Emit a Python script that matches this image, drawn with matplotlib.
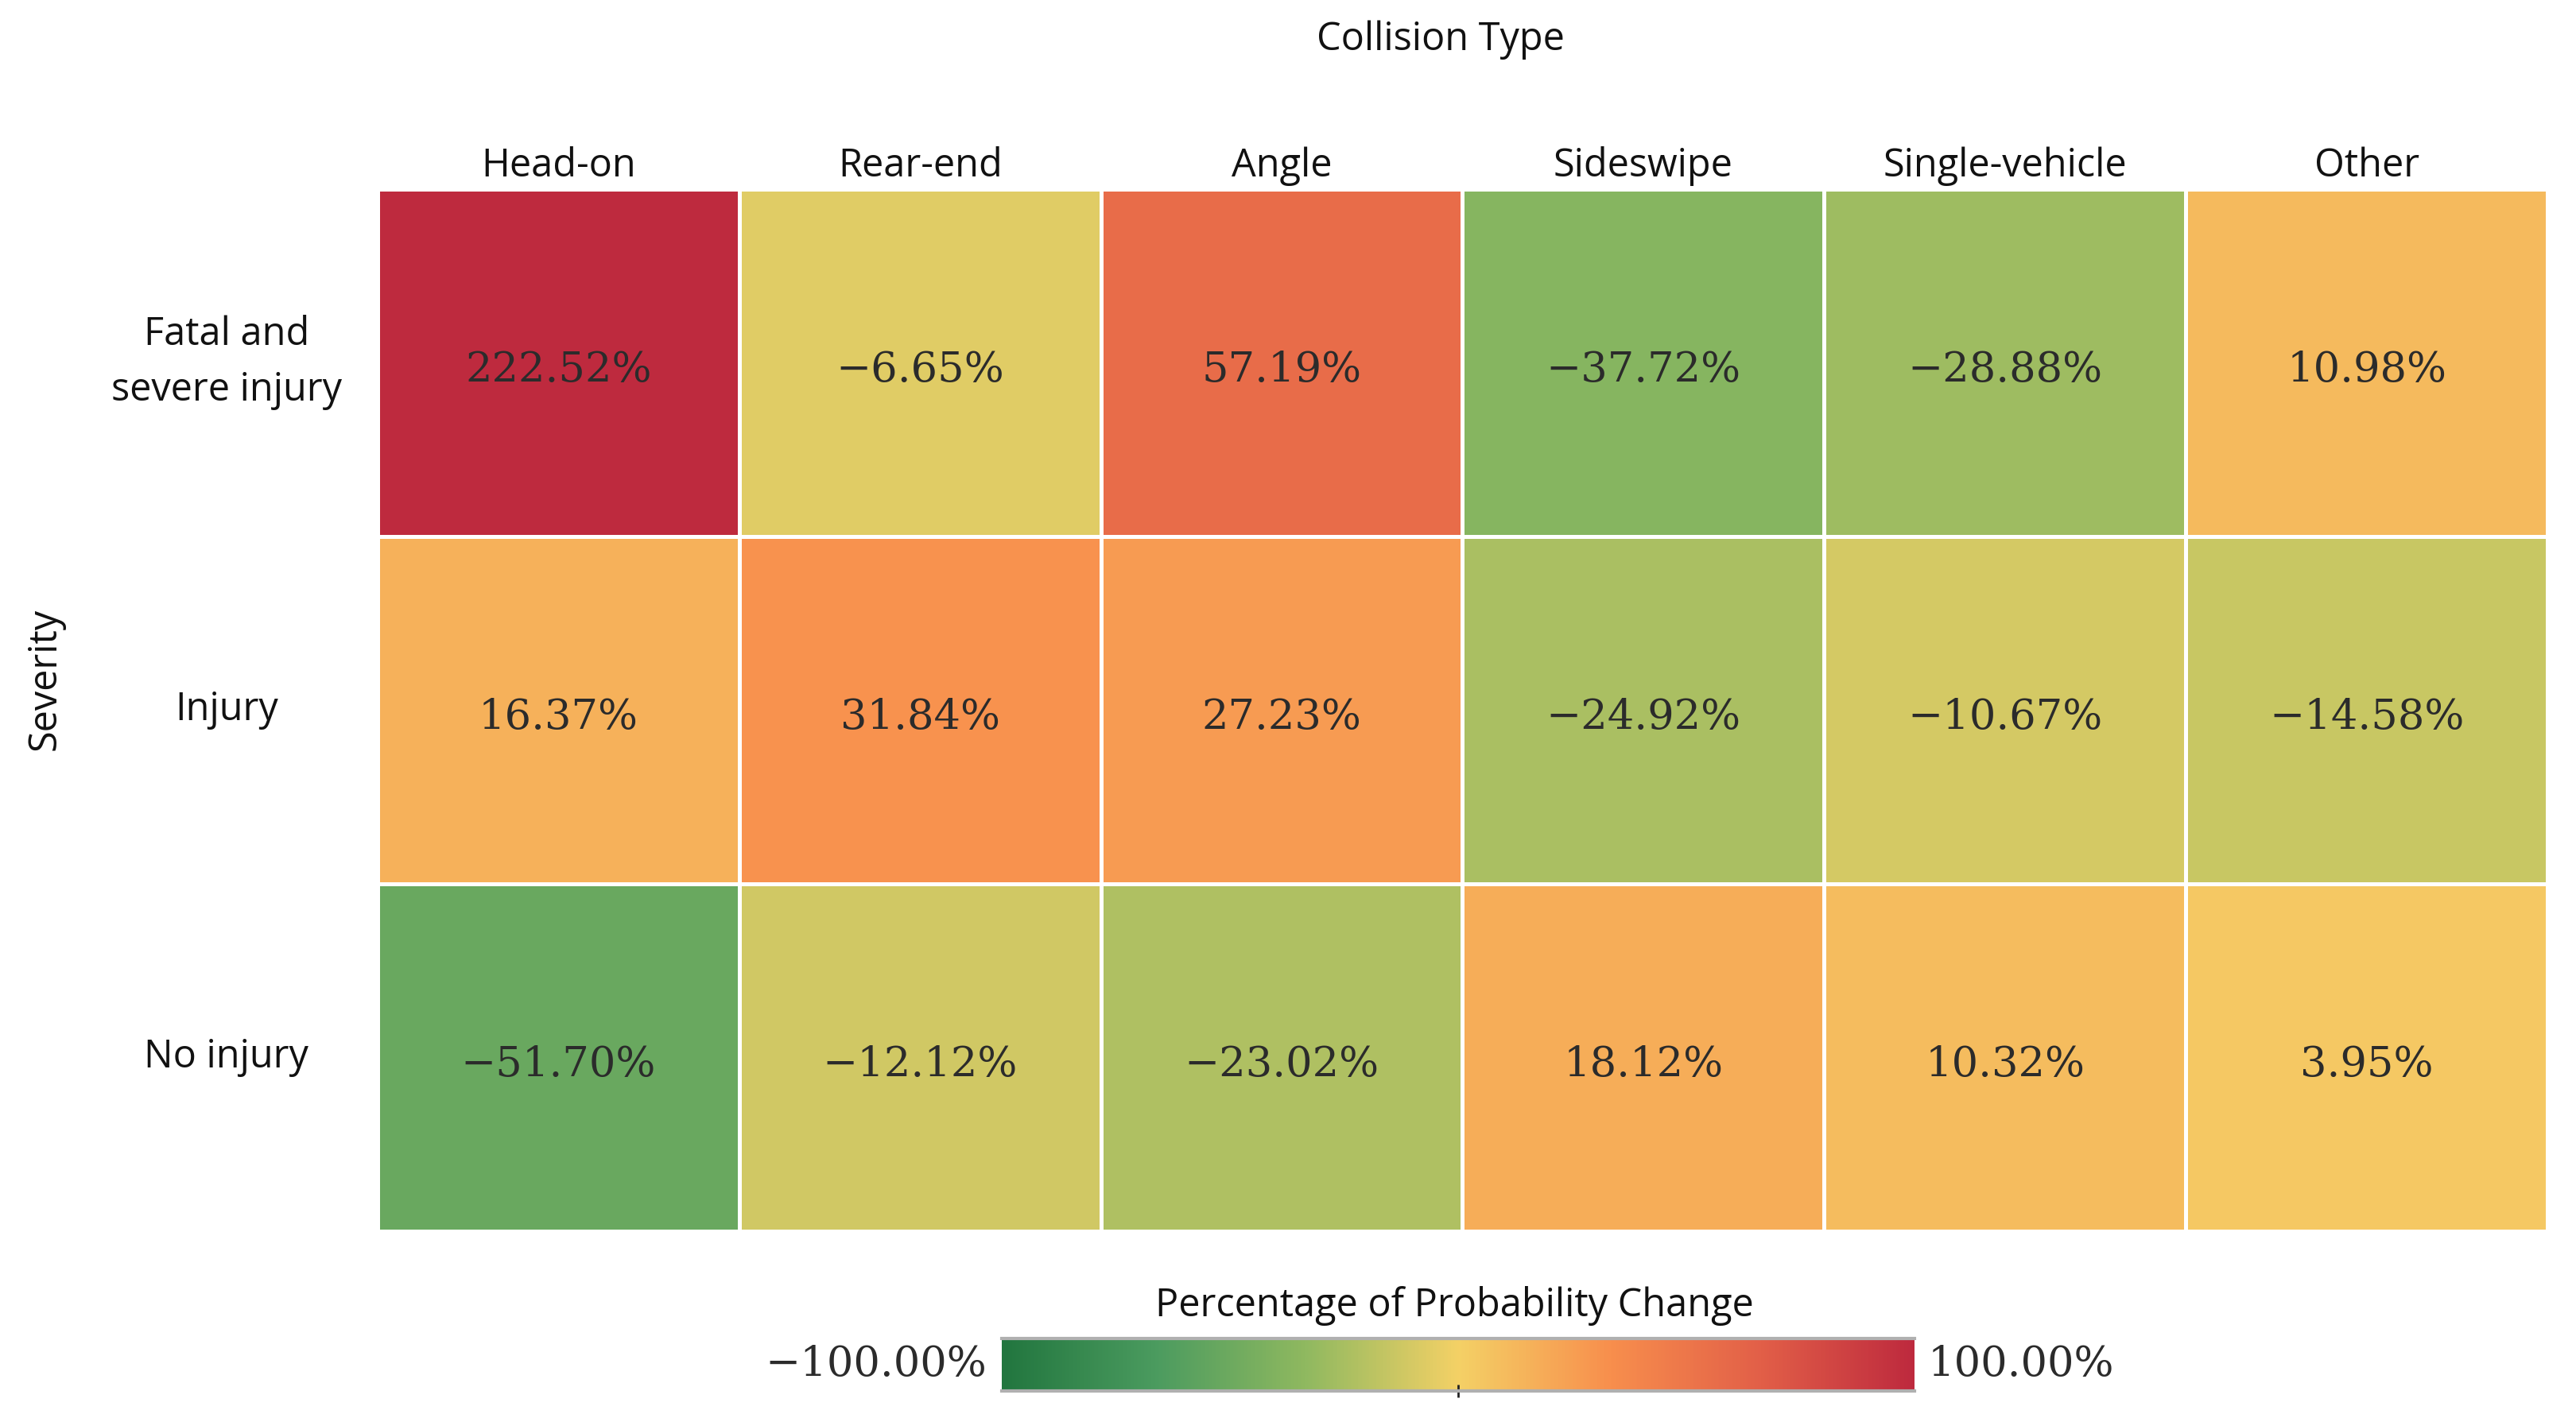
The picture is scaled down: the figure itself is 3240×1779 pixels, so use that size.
import matplotlib
matplotlib.use("Agg")
import matplotlib.pyplot as plt
import matplotlib.transforms as mtransforms
import numpy as np
from matplotlib.colors import LinearSegmentedColormap, Normalize

collision_types = ["Head-on", "Rear-end", "Angle", "Sideswipe", "Single-vehicle", "Other"]
severities = ["Fatal and\nsevere injury", "Injury", "No injury"]

fatal_severe = [222.52, -6.65, 57.19, -37.72, -28.88, 10.98]
injury = [16.37, 31.84, 27.23, -24.92, -10.67, -14.58]
no_injury = [-51.70, -12.12, -23.02, 18.12, 10.32, 3.95]

# Tableau "Red-Green-Gold Diverging", reversed (green -> gold -> red)
palette = ["#22763f", "#4b9b5f", "#90b960", "#f4d166", "#f88f4d", "#e25f48", "#be2a3e"]
cmap = LinearSegmentedColormap.from_list("rgg", palette)
norm = Normalize(vmin=-100, vmax=100)

values = np.array([fatal_severe, injury, no_injury])

W, H = 3241, 1779
fig = plt.figure(figsize=(W / 100, H / 100), dpi=100)

sans = ["Open Sans", "DejaVu Sans"]
serif = ["DejaVu Serif"]
txt_color = "#2b2b2b"
lab_color = "#111111"

# heatmap axes (pixel box of the grid)
x0, x1, y0, y1 = 475, 3204, 238, 1549
ax = fig.add_axes([x0 / W, 1 - y1 / H, (x1 - x0) / W, (y1 - y0) / H])
ax.pcolormesh(values, cmap=cmap, norm=norm, edgecolors="white", linewidth=2.5)
ax.set_xlim(0, len(collision_types))
ax.set_ylim(len(severities), 0)

for i in range(len(severities)):
    for j in range(len(collision_types)):
        label = f"{values[i, j]:.2f}%".replace("-", "\u2212")
        ax.text(j + 0.5, i + 0.52, label, ha="center", va="center",
                fontsize=38, family=serif, color=txt_color)

ax.xaxis.tick_top()
ax.set_xticks(np.arange(len(collision_types)) + 0.5)
ax.set_xticklabels(collision_types, family=sans, fontsize=35, color=lab_color)
ax.set_yticks(np.arange(len(severities)) + 0.5)
ax.set_yticklabels(severities, family=sans, fontsize=35, color=lab_color,
                   linespacing=1.55)
shift = mtransforms.ScaledTranslation(0, -0.06, fig.dpi_scale_trans)
for t in ax.get_yticklabels():
    t.set_ha("center")
    t.set_va("center")
    t.set_transform(t.get_transform() + shift)
ax.tick_params(axis="x", length=0, pad=3)
ax.tick_params(axis="y", length=0, pad=137)
for s in ax.spines.values():
    s.set_visible(False)

fig.text(1812 / W, 1 - 50 / H, "Collision Type", ha="center", va="center",
         family=sans, fontsize=35, color=lab_color)
fig.text(57 / W, 1 - 854 / H, "Severity", ha="center", va="center", rotation=90,
         family=sans, fontsize=35, color=lab_color)

# colorbar
cx0, cx1, cy0, cy1 = 1260, 2408, 1684, 1750
cax = fig.add_axes([cx0 / W, 1 - cy1 / H, (cx1 - cx0) / W, (cy1 - cy0) / H])
grad = np.linspace(-100, 100, 512).reshape(1, -1)
cax.imshow(grad, aspect="auto", cmap=cmap, norm=norm, extent=[-100, 100, 0, 1])
cax.set_xlim(-100, 100)
cax.set_ylim(0, 1)
cax.set_yticks([])
cax.set_xticks([0])
cax.set_xticklabels([""])
cax.tick_params(axis="x", length=12, width=2, color="#222222", direction="inout")
for side, s in cax.spines.items():
    if side in ("top", "bottom"):
        s.set_color("#b0b0b0")
        s.set_linewidth(3)
    else:
        s.set_visible(False)

fig.text(1829 / W, 1 - 1643 / H, "Percentage of Probability Change", ha="center",
         va="center", family=sans, fontsize=35, color=lab_color)
fig.text(1241 / W, 1 - 1717 / H, "\u2212100.00%", ha="right", va="center",
         family=serif, fontsize=38, color=txt_color)
fig.text(2425 / W, 1 - 1717 / H, "100.00%", ha="left", va="center",
         family=serif, fontsize=38, color=txt_color)

fig.savefig("out.png", dpi=100, facecolor="white")
